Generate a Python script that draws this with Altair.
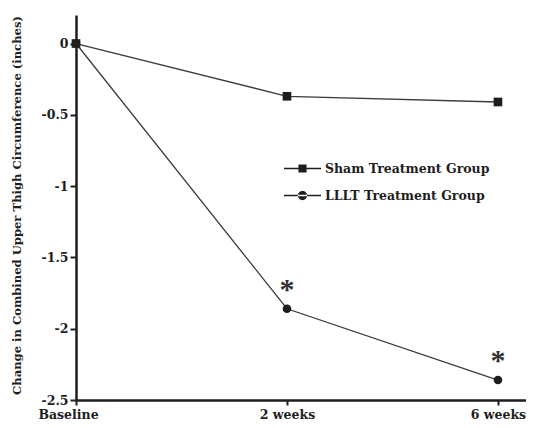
import altair as alt
import pandas as pd

weeks = ["Baseline", "2 weeks", "6 weeks"]
x_pos = [0, 1, 2]
sham = [0.0, -0.37, -0.41]
lllt = [0.0, -1.86, -2.36]
series = ["Sham Treatment Group", "LLLT Treatment Group"]
star_pos = [1, 2]
star_vals = [-1.86, -2.36]
y_ticks = [0, -0.5, -1, -1.5, -2, -2.5]

rows = []
for s, vals in zip(series, [sham, lllt]):
    for w, xp, v in zip(weeks, x_pos, vals):
        rows.append({"series": s, "week": w, "x": xp, "y": v})
df = pd.DataFrame(rows)
stars = pd.DataFrame({"x": star_pos, "y": star_vals, "t": ["*"] * len(star_pos)})

FONT = "DejaVu Serif"
INK = "#1e1e1e"
xs = alt.Scale(domain=[0, 2.133], nice=False, zero=False)
ys = alt.Scale(domain=[-2.5, 0.2], nice=False, zero=False)

label_expr = " : ".join(
    f"datum.value == {p} ? '{w}'" for p, w in zip(x_pos[:-1], weeks[:-1])
) + f" : '{weeks[-1]}'"

x_axis = alt.Axis(values=x_pos, labelExpr=label_expr, title=None, grid=False,
                  tickSize=5, tickWidth=2, tickColor=INK, domainWidth=2.5, domainColor=INK,
                  labelFont=FONT, labelFontWeight="bold", labelFontSize=12.5, labelColor=INK,
                  labelPadding=3, labelFlush=False,
                  labelOffset={"condition": {"test": "datum.value == 0", "value": -8}, "value": 0})
y_axis = alt.Axis(values=y_ticks, labelExpr="'' + datum.value", grid=False,
                  title="Change in Combined Upper Thigh Circumference (inches)",
                  titleFont=FONT, titleFontWeight="bold", titleFontSize=11.6, titleColor=INK,
                  titleX=-54, titleY=190, titleAnchor="middle",
                  tickSize=6, tickWidth=2, tickColor=INK, domainWidth=2.5, domainColor=INK,
                  labelFont=FONT, labelFontWeight="bold", labelFontSize=12.5, labelColor=INK,
                  labelPadding=2)

base = alt.Chart(df)
lines = base.mark_line(color="#3c3c3c", strokeWidth=1.3).encode(
    x=alt.X("x:Q", scale=xs, axis=x_axis),
    y=alt.Y("y:Q", scale=ys, axis=y_axis),
    detail="series:N",
)
points = base.mark_point(filled=True, color=INK, size=75, opacity=1).encode(
    x="x:Q", y="y:Q",
    shape=alt.Shape("series:N", scale=alt.Scale(domain=series, range=["square", "circle"]), legend=None),
)

# legend symbols: thin bar (line) plus marker, fill only
path_sq = "M-1,-0.04H1V0.04H-1Z M-0.22,-0.22H0.22V0.22H-0.22Z"
path_ci = ("M-1,-0.04H1V0.04H-1Z M-0.25,0A0.25,0.25 0 1,0 0.25,0"
           "A0.25,0.25 0 1,0 -0.25,0Z")
legend_layer = base.mark_point(filled=True, color=INK, opacity=1).encode(
    x="x:Q", y="y:Q",
    shape=alt.Shape("series:N", scale=alt.Scale(domain=series, range=[path_sq, path_ci]),
                    legend=alt.Legend(orient="none", legendX=207, legendY=134, title=None,
                                      symbolSize=1369, symbolFillColor=INK,
                                      labelFont=FONT, labelFontWeight="bold", labelFontSize=12.5,
                                      labelColor=INK, labelOffset=3, labelLimit=0,
                                      rowPadding=0, padding=0)),
).transform_filter("datum.x < 0")

star_text = alt.Chart(stars).mark_text(text="*", fontSize=30, font="Liberation Serif",
                                       fontWeight="bold", color="#333",
                                       baseline="middle", dy=-19).encode(
    x="x:Q", y="y:Q")

chart = alt.layer(lines, points, legend_layer, star_text).resolve_scale(
    shape="independent"
).properties(
    width=450, height=385,
    autosize=alt.AutoSizeParams(type="none"),
    padding={"left": 68, "top": 7, "right": 0, "bottom": 20},
).configure_view(stroke=None)

chart.save("out.html", embed_options={"renderer": "svg", "actions": False})
